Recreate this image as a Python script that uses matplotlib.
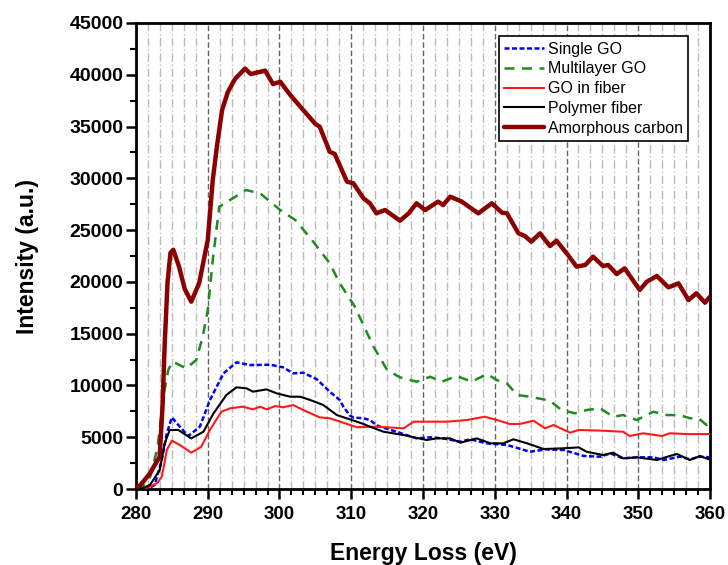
import matplotlib
matplotlib.use("Agg")
import matplotlib.pyplot as plt
from matplotlib.ticker import MultipleLocator
import numpy as np

plt.rcParams['font.family'] = ['Liberation Sans', 'DejaVu Sans']

# ---------------- data ----------------
e_single = [280, 281, 282, 282.6, 283.6, 284.3, 285.0, 285.9, 287.3, 288.9, 290.3, 292.2, 294.0, 295.9,
            298.7, 300.5, 301.9, 303.3, 305.2, 307.0, 308.4, 308.9, 309.8, 310.3, 311.7, 312.6, 313.5, 314.0,
            316.3, 319.1, 321.0, 322.8, 325.2, 326.6, 328.9, 331.7, 334.9, 337.2, 339.6, 342.4, 344.7,
            346.1, 347.9, 349.8, 352.1, 353.5, 355.8, 357.2, 358.6, 360]
i_single = [0, 50, 150, 390, 2800, 5380, 6920, 6180, 5120, 6020, 8590, 11170, 12230, 11970,
            12000, 11750, 11170, 11230, 10600, 9400, 8590, 7950, 7100, 6900, 6830, 6660, 6180, 6020,
            5530, 4890, 4990, 4890, 4570, 4800, 4410, 4250, 3600, 3830, 3770, 3190, 3120,
            3440, 2960, 3060, 3060, 2800, 3120, 2870, 3120, 3060]

e_multi = [280, 281, 282, 283, 283.5, 283.9, 284.5, 285.1, 287.0, 288.4, 289.3, 290.0, 290.7, 291.6,
           293.5, 295.3, 297.3, 300.1, 302.2, 304.7, 307.0, 308.4, 310.5, 313.1, 315.0, 316.8, 319.1,
           321.0, 322.6, 324.7, 326.8, 328.9, 330.3, 331.7, 333.1, 334.9, 336.1, 337.7, 339.3, 341.2,
           342.8, 344.7, 346.5, 347.9, 349.8, 352.1, 354.0, 355.8, 357.2, 358.4, 359.5, 360]
i_multi = [0, 300, 1200, 4000, 7000, 9240, 11500, 12300, 11650, 12460, 14710, 17290, 22110, 27260,
           28070, 28870, 28550, 26940, 25980, 23880, 21790, 19860, 17610, 13740, 11490, 10780, 10360,
           10840, 10360, 10910, 10360, 11100, 10520, 10200, 9080, 8910, 8750, 8530, 7630, 7310,
           7630, 7790, 6980, 7140, 6660, 7460, 7140, 7140, 6830, 6830, 6180, 6500]

e_gofiber = [280, 281, 281.95, 283.0, 283.6, 284.3, 285.0, 286.1, 287.7, 289.1, 290.3, 291.9, 293.1,
             294.9, 296.3, 297.3, 298.2, 299.4, 300.5, 301.9, 303.3, 305.6, 307.0, 308.9, 310.8, 312.6,
             315.0, 317.3, 318.7, 321.0, 323.3, 326.1, 328.6, 330.3, 332.1, 333.5, 335.4, 337.0, 338.2,
             340.5, 341.7, 345.1, 347.9, 348.8, 350.7, 353.3, 354.4, 357.0, 360]
i_gofiber = [0, 50, 220, 600, 1190, 3770, 4670, 4250, 3510, 4080, 5700, 7460, 7790,
             7950, 7690, 7950, 7690, 8010, 7890, 8110, 7630, 6920, 6830, 6400, 5960, 6020,
             5960, 5860, 6500, 6500, 6500, 6660, 6980, 6660, 6280, 6280, 6600, 5860, 6180,
             5440, 5700, 5630, 5530, 5120, 5380, 5120, 5380, 5300, 5310]

e_polymer = [280, 281, 281.95, 283.3, 284.0, 284.7, 285.9, 287.7, 289.4, 290.8, 292.6, 294.0, 295.4,
             296.3, 298.2, 299.6, 301.5, 302.9, 304.3, 306.1, 308.0, 309.8, 311.7, 312.6, 314.5, 317.3,
             320.5, 321.9, 323.8, 325.2, 327.5, 329.4, 331.2, 332.6, 334.5, 336.8, 339.6, 341.7, 342.8,
             345.1, 346.5, 347.9, 349.8, 352.6, 354.4, 355.4, 357.2, 358.6, 359.8, 360]
i_polymer = [0, 80, 390, 1830, 4410, 5700, 5700, 4890, 5530, 7300, 9080, 9820, 9720,
             9400, 9620, 9240, 8910, 8910, 8590, 8110, 7140, 6730, 6280, 6020, 5530, 5210,
             4730, 4890, 4890, 4470, 4890, 4410, 4410, 4800, 4410, 3860, 3930, 4020, 3600,
             3280, 3510, 2960, 3060, 2800, 3190, 3380, 2800, 3190, 2870, 3000]

e_amorph = [280, 280.5, 281.0, 281.95, 282.6, 283.3, 283.7, 284.0, 284.4, 284.8, 285.2, 286.0, 286.8,
            287.7, 288.8, 290.0, 290.7, 291.3, 292.0, 292.8, 293.8, 295.2, 296.0, 298.0, 299.1, 300.1,
            301.5, 303.3, 305.0, 305.6, 307.0, 307.7, 309.4, 310.3, 311.7, 312.6, 313.5, 314.7, 316.8,
            318.0, 319.1, 320.3, 322.1, 322.8, 323.8, 325.4, 327.7, 329.6, 331.0, 331.7, 333.3, 334.2,
            335.1, 336.3, 337.7, 338.6, 340.2, 341.4, 342.6, 343.7, 345.1, 345.8, 347.0, 348.1, 350.2,
            351.2, 352.6, 354.2, 355.6, 357.0, 358.1, 359.3, 360]
i_amorph = [200, 300, 700, 1520, 2300, 3120, 8000, 14000, 20000, 22800, 23100, 21470, 19300,
            18090, 19860, 24040, 29840, 33200, 36600, 38330, 39600, 40600, 40070, 40400, 39100, 39330,
            38050, 36600, 35250, 34990, 32570, 32350, 29680, 29520, 28070, 27590, 26620, 26940, 25910,
            26620, 27590, 26940, 27750, 27420, 28230, 27750, 26620, 27590, 26690, 26620, 24690, 24430,
            23880, 24690, 23460, 23980, 22600, 21470, 21630, 22430, 21530, 21630, 20760, 21310, 19220,
            20020, 20570, 19470, 19860, 18250, 18900, 17990, 18570]

labels = ["Single GO", "Multilayer GO", "GO in fiber", "Polymer fiber", "Amorphous carbon"]

# ---------------- plot ----------------
fig = plt.figure(figsize=(7.28, 5.65), dpi=100)
ax = fig.add_axes([0.1868, 0.1345, 0.7885, 0.8248])

ax.plot(e_single, i_single, color='#0000ff', lw=1.8, ls=(0, (2, 1)), label=labels[0], zorder=4)
ax.plot(e_multi, i_multi, color='#1f8a1f', lw=1.8, ls=(0, (4, 3)), label=labels[1], zorder=4)
ax.plot(e_gofiber, i_gofiber, color='#ff1a1a', lw=1.5, label=labels[2], zorder=4)
ax.plot(e_polymer, i_polymer, color='black', lw=1.5, label=labels[3], zorder=4)
ax.plot(e_amorph, i_amorph, color='#8b0000', lw=3.2, label=labels[4], zorder=5,
        solid_capstyle='round', solid_joinstyle='round')

ax.set_xlim(280, 360)
ax.set_ylim(0, 45000)
ax.xaxis.set_major_locator(MultipleLocator(10))
ax.xaxis.set_minor_locator(MultipleLocator(10 / 6))
ax.yaxis.set_major_locator(MultipleLocator(5000))
ax.yaxis.set_minor_locator(MultipleLocator(2500))

ax.grid(True, which='major', axis='x', color='#666666', ls=(0, (4, 2)), lw=1.0, zorder=1)
ax.grid(True, which='minor', axis='x', color='#bbbbbb', ls=(0, (6, 2, 1, 2)), lw=1.0, zorder=1)
ax.set_axisbelow(True)

for s in ax.spines.values():
    s.set_linewidth(2.0)

ax.tick_params(which='major', direction='out', length=7, width=1.8)
ax.tick_params(which='minor', direction='out', length=4, width=1.5)
ax.tick_params(axis='x', which='major', labelsize=13.5, pad=5)
ax.tick_params(axis='y', which='major', labelsize=14, pad=2)
for lab in ax.get_xticklabels() + ax.get_yticklabels():
    lab.set_fontweight('bold')

ax.set_xlabel("Energy Loss (eV)", fontsize=16.5, fontweight='bold', labelpad=14)
ax.set_ylabel("Intensity (a.u.)", fontsize=16.5, fontweight='bold', labelpad=22)

leg = ax.legend(loc='upper right', bbox_to_anchor=(0.962, 0.972), fontsize=11.5,
                frameon=True, fancybox=False, edgecolor='black', framealpha=1,
                handlelength=2.5, handletextpad=0.2, borderpad=0.35, labelspacing=0.3,
                borderaxespad=0)
leg.get_frame().set_linewidth(1.2)

fig.savefig("out.png", dpi=100)
